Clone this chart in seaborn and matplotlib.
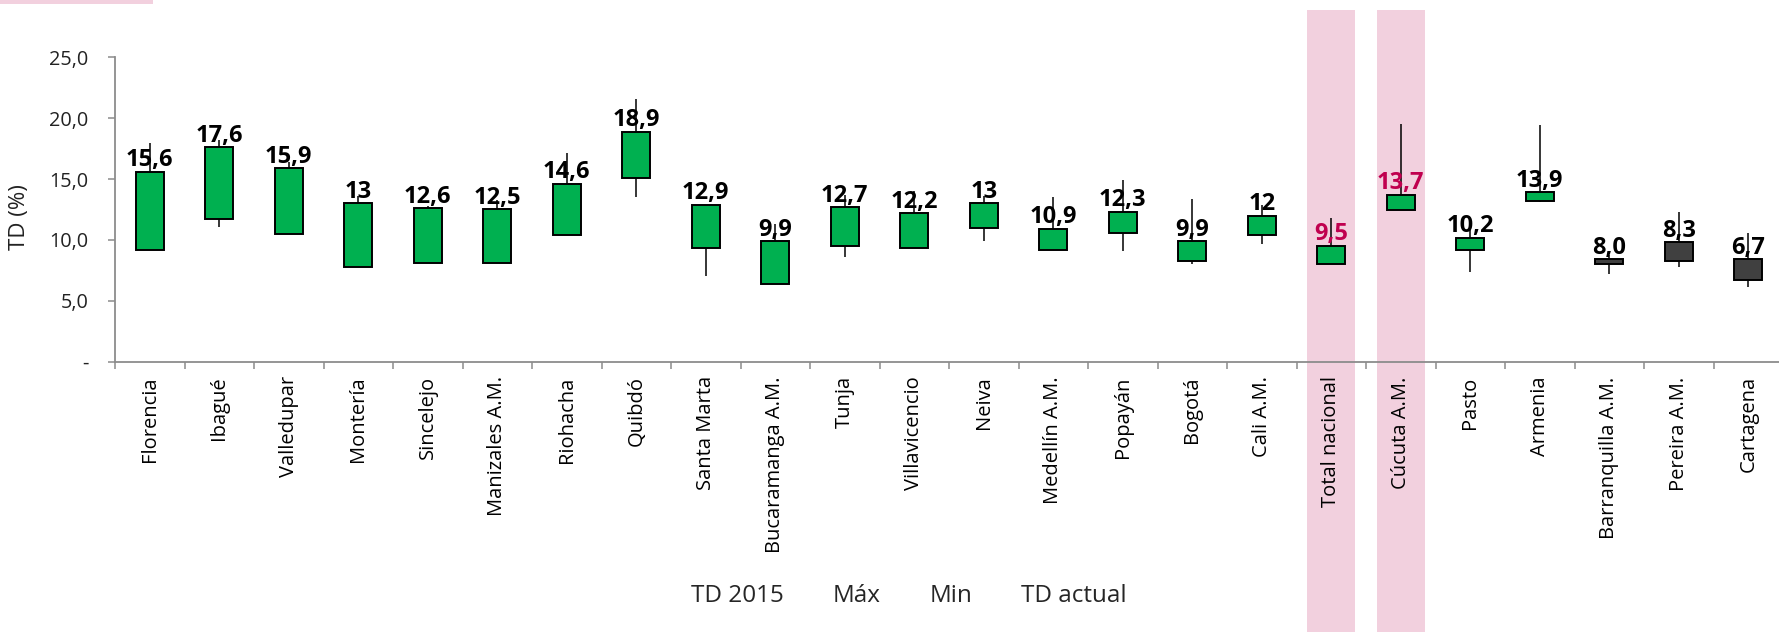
import matplotlib
matplotlib.use("Agg")
import matplotlib.pyplot as plt
import matplotlib.transforms as mtransforms
from matplotlib.patches import Rectangle
from matplotlib.lines import Line2D
import seaborn as sns

# datos (TD %, por ciudad)
ciudades = ["Florencia", "Ibagué", "Valledupar", "Montería", "Sincelejo",
            "Manizales A.M.", "Riohacha", "Quibdó", "Santa Marta",
            "Bucaramanga A.M.", "Tunja", "Villavicencio", "Neiva",
            "Medellín A.M.", "Popayán", "Bogotá", "Cali A.M.",
            "Total nacional", "Cúcuta A.M.", "Pasto", "Armenia",
            "Barranquilla A.M.", "Pereira A.M.", "Cartagena"]
td_2015 = [9.2, 11.7, 10.5, 7.8, 8.1, 8.1, 10.4, 15.1, 9.3, 6.4, 9.5, 9.3,
           11.0, 9.2, 10.6, 8.3, 10.4, 8.0, 12.5, 9.2, 13.2, 8.4, 9.8, 8.4]
td_actual = [15.6, 17.6, 15.9, 13.0, 12.6, 12.5, 14.6, 18.9, 12.9, 9.9, 12.7, 12.2,
             13.0, 10.9, 12.3, 9.9, 12.0, 9.5, 13.7, 10.2, 13.9, 8.0, 8.3, 6.7]
td_max = [18.0, 18.2, 16.4, 13.6, 12.8, 13.3, 17.1, 21.6, 12.9, 11.3, 13.7, 14.0,
          13.6, 13.5, 14.9, 13.4, 12.9, 11.8, 19.5, 10.8, 19.4, 8.8, 12.3, 10.6]
td_min = [9.2, 11.1, 10.5, 7.8, 8.1, 8.1, 10.4, 13.5, 7.0, 6.4, 8.6, 9.3,
          9.9, 9.2, 9.1, 8.0, 9.7, 8.0, 12.5, 7.4, 13.1, 7.2, 7.8, 6.1]
etiquetas = ["15,6", "17,6", "15,9", "13", "12,6", "12,5", "14,6", "18,9", "12,9",
             "9,9", "12,7", "12,2", "13", "10,9", "12,3", "9,9", "12", "9,5",
             "13,7", "10,2", "13,9", "8,0", "8,3", "6,7"]
resaltadas = ["Total nacional", "Cúcuta A.M."]
leyenda = ["TD 2015", "Máx", "Min", "TD actual"]
y_ticks = [0, 5, 10, 15, 20, 25]
y_ticklabels = ["-", "5,0", "10,0", "15,0", "20,0", "25,0"]

VERDE = "#00B050"
OSCURO = "#404040"
ROSA = "#F2D0DE"
CARMIN = "#C0004F"
GRIS = "#8C8C8C"

sns.set_theme(style="white")
plt.rcParams["font.family"] = ["Open Sans", "DejaVu Sans"]

W, H = 1779, 632
fig = plt.figure(figsize=(W / 100, H / 100), dpi=100)
ax = fig.add_axes([115 / W, 1 - 361.7 / H, 1668 / W, 304.4 / H])
ax.patch.set_alpha(0)

x = list(range(len(ciudades)))

# bandas rosadas de resaltado (de arriba hasta el borde inferior)
trans = mtransforms.blended_transform_factory(ax.transData, fig.transFigure)
for c in resaltadas:
    i = ciudades.index(c)
    fig.add_artist(Rectangle((i - 0.345, 0), 0.69, 1 - 10 / H, transform=trans,
                             facecolor=ROSA, edgecolor="none", zorder=-1))
fig.add_artist(Rectangle((0, 1 - 4 / H), 153 / W, 4 / H, transform=fig.transFigure,
                         facecolor=ROSA, edgecolor="none", zorder=-1))

# mechas (min-max)
ax.vlines(x, td_min, td_max, color="black", linewidth=1.1, zorder=2)

# cuerpos de las velas
bajo = [min(a, b) for a, b in zip(td_2015, td_actual)]
alto = [abs(b - a) for a, b in zip(td_2015, td_actual)]
colores = [VERDE if b >= a else OSCURO for a, b in zip(td_2015, td_actual)]
ax.bar(x, alto, bottom=bajo, width=0.40, color=colores, edgecolor="black",
       linewidth=1.4, zorder=3)

# etiquetas de valor
for i, lab in enumerate(etiquetas):
    top = max(td_2015[i], td_actual[i])
    col = CARMIN if ciudades[i] in resaltadas else "black"
    ax.annotate(lab, (i, top), xytext=(0, 4), textcoords="offset points",
                ha="center", va="baseline", fontsize=17, fontweight="bold",
                color=col, zorder=4)

ax.set_xlim(-0.5, len(ciudades) - 0.5)
ax.set_ylim(0, 25)
ax.set_yticks(y_ticks)
ax.set_yticklabels(y_ticklabels, fontsize=14.3, color="#222222")
ax.set_xticks(x)
ax.set_xticklabels(ciudades, rotation=90, fontsize=14.5, color="black")
ax.set_xticks([i - 0.5 for i in range(len(ciudades) + 1)], minor=True)
ax.tick_params(axis="x", which="major", length=0, pad=10.5)
ax.tick_params(axis="x", which="minor", length=5, width=1.1, color=GRIS,
               direction="out", bottom=True)
ax.tick_params(axis="y", length=5, width=1.1, color=GRIS, direction="out",
               left=True, pad=14)

sns.despine(ax=ax, top=True, right=True)
for s in ["left", "bottom"]:
    ax.spines[s].set_color(GRIS)
    ax.spines[s].set_linewidth(1.3)
ax.grid(False)

fig.text(20 / W, 1 - 217 / H, "TD (%)", rotation=90, ha="center", va="center",
         fontsize=16, color="#222222")

handles = [Line2D([], [], linestyle="none") for _ in leyenda]
fig.legend(handles, leyenda, loc="center", bbox_to_anchor=(909 / W, 1 - 596 / H),
           ncol=4, frameon=False, handlelength=0, handletextpad=0,
           columnspacing=2.0, fontsize=17.5)

fig.savefig("out.png", dpi=100)
